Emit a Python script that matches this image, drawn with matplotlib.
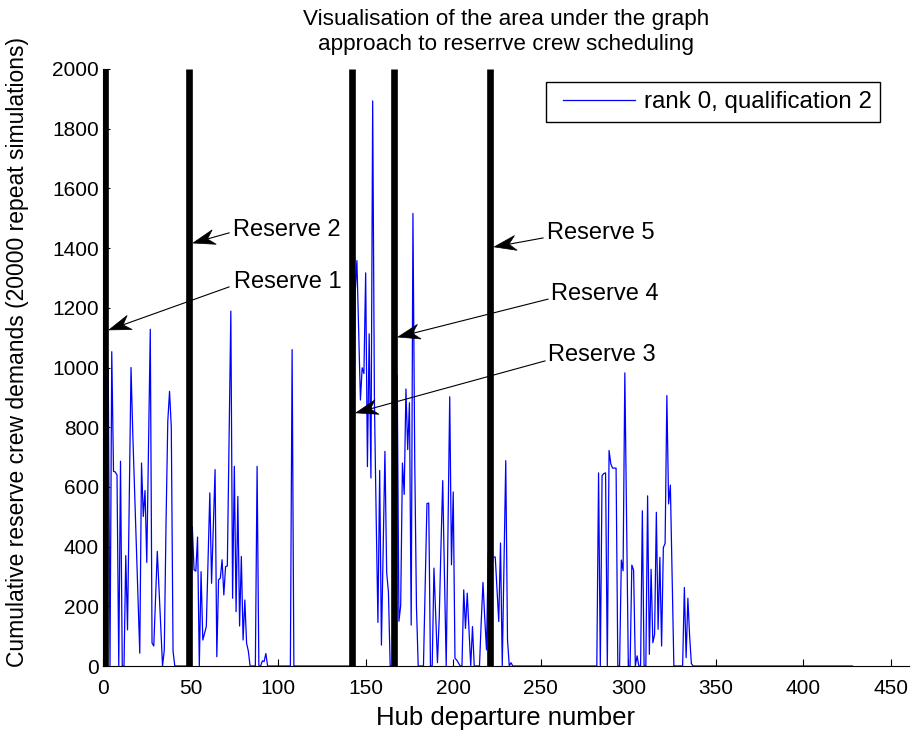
import numpy as np
import matplotlib
matplotlib.use("Agg")
import matplotlib.pyplot as plt
from matplotlib.patches import Polygon, Rectangle

plt.rcParams['font.family'] = ['Liberation Sans', 'DejaVu Sans']

# ---------------------------------------------------------------------------
# Demand per hub departure (rank 0, qualification 2). Departures not listed
# in a burst carry zero demand.
# ---------------------------------------------------------------------------
n_departures = 428

burst_a_start = 1
burst_a = [985, 990, 993, 0, 1053, 652, 650, 640, 0, 686,
           0, 0, 370, 121, 560, 1000, 780, 590, 410, 230,
           43, 680, 501, 588, 347, 740, 1128, 77, 67, 230,
           384, 260, 130, 0, 54, 480, 820, 920, 800, 50]

burst_b_start = 51
burst_b = [467, 322, 318, 432, 0, 316, 87, 110, 132, 356,
           580, 277, 468, 658, 31, 289, 294, 356, 238, 333,
           335, 762, 1189, 227, 669, 182, 568, 134, 367, 87,
           221, 76, 50, 0, 0, 0, 0, 669, 0, 0,
           17, 15, 42]

burst_c_start = 108
burst_c = [1060]

burst_d_start = 143
burst_d = [600, 1247, 1358, 1130, 891, 999, 980, 1317, 668, 1113,
           630, 1893, 884, 500, 146, 655, 70, 400, 719, 312,
           248]

burst_e_start = 168
burst_e = [974, 150, 203, 680, 575, 928, 725, 882, 137, 1516,
           700, 200, 0, 0, 0, 0, 280, 544, 546, 0,
           0, 328, 170, 11, 160, 400, 621, 300, 0, 450,
           902, 339, 583, 26, 20, 10, 0, 0, 255, 126,
           244, 120, 0, 132, 0, 0, 0, 0, 150, 280,
           160, 54, 378, 370, 365, 365, 365, 260, 149, 412,
           0, 340, 688, 87, 0, 11]

burst_f_start = 283
burst_f = [647, 0, 638, 645, 647, 0, 722, 677, 663, 663,
           663, 0, 0, 355, 319, 982, 480, 0, 0, 338,
           321, 0, 34, 0, 0, 520, 0, 0, 570, 39,
           324, 78, 106, 515, 123, 364, 67, 397, 411, 906,
           543, 606, 300, 0, 0, 0, 0, 0, 0, 263,
           28, 227, 100, 8]

bursts = [(burst_a_start, burst_a), (burst_b_start, burst_b),
          (burst_c_start, burst_c), (burst_d_start, burst_d),
          (burst_e_start, burst_e), (burst_f_start, burst_f)]

departure = np.arange(1, n_departures + 1)
demand = np.zeros(n_departures)
for start, values in bursts:
    demand[start - 1:start - 1 + len(values)] = values

# Departures at which reserve crews are placed
reserve_x = [1, 49, 142, 166, 221]
reserve_names = ["Reserve 1", "Reserve 2", "Reserve 3", "Reserve 4", "Reserve 5"]
# Arrow tip heights, label anchors and arrow tails (data units)
arrow_tip_y = [1126, 1417, 848, 1102, 1404]
label_xy = [(74.8, 1286), (74.2, 1461), (254.1, 1042), (255.8, 1246), (253.6, 1451)]
tail_xy = [(72.0, 1270), (72.0, 1451), (252.4, 1022), (254.1, 1229), (251.3, 1434)]

x_ticks = np.arange(0, 451, 50)
y_ticks = np.arange(0, 2001, 200)
series_label = "rank 0, qualification 2"

# ---------------------------------------------------------------------------
W, H, DPI = 914, 731, 100
PX_PER_DEP = 788 / 450
AX_W = 460 * PX_PER_DEP
fig = plt.figure(figsize=(W / DPI, H / DPI), dpi=DPI)
ax = fig.add_axes([103 / W, (H - 666) / H, AX_W / W, 597 / H])

line, = ax.plot(departure, demand, color=(0, 0, 1), lw=0.9, zorder=2)
ax.vlines(reserve_x, 0, 2000, colors="k", lw=4.8, zorder=3,
          capstyle="butt")

ax.set_xlim(0, 460)
ax.set_ylim(0, 2000)
ax.set_xticks(x_ticks)
ax.set_yticks(y_ticks)
for side in ("top", "right"):
    ax.spines[side].set_visible(False)
for side in ("left", "bottom"):
    ax.spines[side].set_linewidth(0.8)
ax.tick_params(direction="in", length=5, width=0.8, labelsize=15)
ax.tick_params(axis="x", pad=9)
ax.tick_params(axis="y", pad=3)

ax.set_xlabel("Hub departure number", fontsize=18.5, labelpad=6)
ax.set_ylabel("Cumulative reserve crew demands (20000 repeat simulations)",
              fontsize=16.5)
ax.yaxis.set_label_coords(-(103 - 18) / AX_W, 0.526)
ax.yaxis.label.set_va("center")
ax.set_title("Visualisation of the area under the graph\n"
             "approach to reserrve crew scheduling",
             fontsize=16.2, pad=14, linespacing=1.22)

# Legend: frame drawn as a plain rectangle, entry placed inside it
ax.add_patch(Rectangle((546 / W, 1 - 122 / H), 334 / W, 40 / H,
                       transform=fig.transFigure, facecolor="white",
                       edgecolor="k", lw=1.0, zorder=10, clip_on=False))
leg = ax.legend([line], [series_label], loc="center left",
                bbox_to_anchor=(563 / W, 1 - 102 / H),
                bbox_transform=fig.transFigure, borderaxespad=0,
                borderpad=0, frameon=False, fontsize=17.4,
                handlelength=72 / 24.2, handletextpad=0.36)
leg.set_zorder(11)

# Arrows with a swept-back head, drawn in pixel space
fig.canvas.draw()
to_px = ax.transData
to_data = ax.transData.inverted()
head_len, head_half_w, notch = 22.0, 7.5, 7.0
for rx, ty, (lx, ly), (tx, tyy), name in zip(reserve_x, arrow_tip_y,
                                              label_xy, tail_xy, reserve_names):
    tip = np.array(to_px.transform((rx + 2.4, ty)))
    tail = np.array(to_px.transform((tx, tyy)))
    d = tip - tail
    d /= np.hypot(*d)
    nrm = np.array([-d[1], d[0]])
    back = tip - head_len * d
    pts_px = [tip, back + head_half_w * nrm, tip - (head_len - notch) * d,
              back - head_half_w * nrm]
    pts = to_data.transform(np.array(pts_px))
    ax.add_patch(Polygon(pts, closed=True, facecolor="k", edgecolor="k",
                         lw=0.5, zorder=5, clip_on=False))
    shaft_end = to_data.transform(tip - (head_len - notch) * d)
    ax.plot([tx, shaft_end[0]], [tyy, shaft_end[1]], color="k", lw=0.8,
            zorder=5, clip_on=False)
    ax.text(lx, ly, name, fontsize=17, ha="left", va="center", zorder=6)

fig.savefig("out.png", dpi=DPI)
